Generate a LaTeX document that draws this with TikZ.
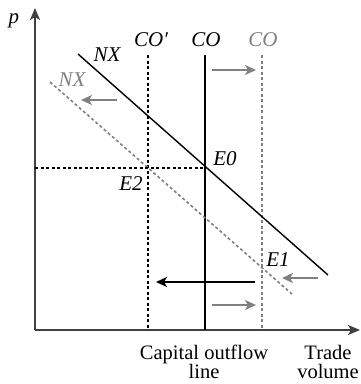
\documentclass[tikz,border=0pt]{standalone}
\usepackage{fontspec}
\setmainfont{Liberation Serif}
\usetikzlibrary{arrows.meta}
\definecolor{axisgray}{HTML}{404040}
\definecolor{lgray}{HTML}{808080}
\tikzset{
  axisline/.style={draw=axisgray,line width=2pt,-{Stealth[length=12pt,width=10pt,inset=3pt]}},
  blackdot/.style={draw=black,line width=2pt,dash pattern=on 3pt off 2.5pt},
  graydash/.style={draw=lgray,line width=1.6pt,dash pattern=on 3pt off 2.5pt},
  solidline/.style={draw=black,line width=1.4pt},
  grayarrow/.style={draw=lgray,line width=1.5pt,-{Stealth[length=11pt,width=10pt,inset=3pt]}},
  blackarrow/.style={draw=black,line width=1.5pt,-{Stealth[length=11pt,width=10pt,inset=3pt]}},
  lbl/.style={inner sep=0pt,font=\fontsize{21}{22}\selectfont\itshape},
  txt/.style={inner sep=0pt,align=center,font=\fontsize{20.5}{19}\selectfont},
}
\begin{document}
\begin{tikzpicture}[x=1pt,y=-1pt]
\useasboundingbox (0,0) rectangle (361,384);
% axes
\coordinate (O) at (35,330);
\coordinate (ytip) at (35,8);
\coordinate (xtip) at (360,330);
\draw[axisline] (O) -- (ytip);
\draw[axisline] (O) -- (xtip);
% vertical lines
\coordinate (cop1) at (148,55);
\coordinate (cop2) at (148,330);
\coordinate (co1) at (205,55);
\coordinate (co2) at (205,330);
\coordinate (cog1) at (262,55);
\coordinate (cog2) at (262,330);
\draw[blackdot] (cop1) -- (cop2);
\draw[solidline] (co1) -- (co2);
\draw[graydash] (cog1) -- (cog2);
% NX lines
\coordinate (nx1) at (78,54);
\coordinate (nx2) at (328,275);
\coordinate (gnx1) at (50,82);
\coordinate (gnx2) at (292,294);
\draw[solidline] (nx1) -- (nx2);
\draw[graydash] (gnx1) -- (gnx2);
% horizontal dotted
\coordinate (h1) at (35,168);
\coordinate (h2) at (205,168);
\draw[blackdot] (h1) -- (h2);
% arrows
\coordinate (a1s) at (212,70); \coordinate (a1e) at (256,70);
\coordinate (a2s) at (117,100); \coordinate (a2e) at (81,100);
\coordinate (a3s) at (318,278); \coordinate (a3e) at (282,278);
\coordinate (a4s) at (255,282); \coordinate (a4e) at (156,282);
\coordinate (a5s) at (212,305); \coordinate (a5e) at (256,305);
\draw[grayarrow] (a1s) -- (a1e);
\draw[grayarrow] (a2s) -- (a2e);
\draw[grayarrow] (a3s) -- (a3e);
\draw[blackarrow] (a4s) -- (a4e);
\draw[grayarrow] (a5s) -- (a5e);
% labels
\node[lbl] (p) at (14,21) {p};
\node[lbl] (lcop) at (151,40) {CO\char"2032};
\node[lbl] (lco) at (206,40) {CO};
\node[lbl,text=lgray] (lcog) at (263,40) {CO};
\node[lbl] (lnx) at (107,55) {NX};
\node[lbl,text=lgray] (lgnx) at (72,80) {NX};
\node[lbl] (e0) at (225,159) {E0};
\node[lbl] (e2) at (131,184) {E2};
\node[lbl] (e1) at (278,260) {E1};
\node[txt] (cap) at (204,362) {Capital outflow\\line};
\node[txt] (trade) at (328,362) {Trade\\volume};
\end{tikzpicture}
\end{document}
